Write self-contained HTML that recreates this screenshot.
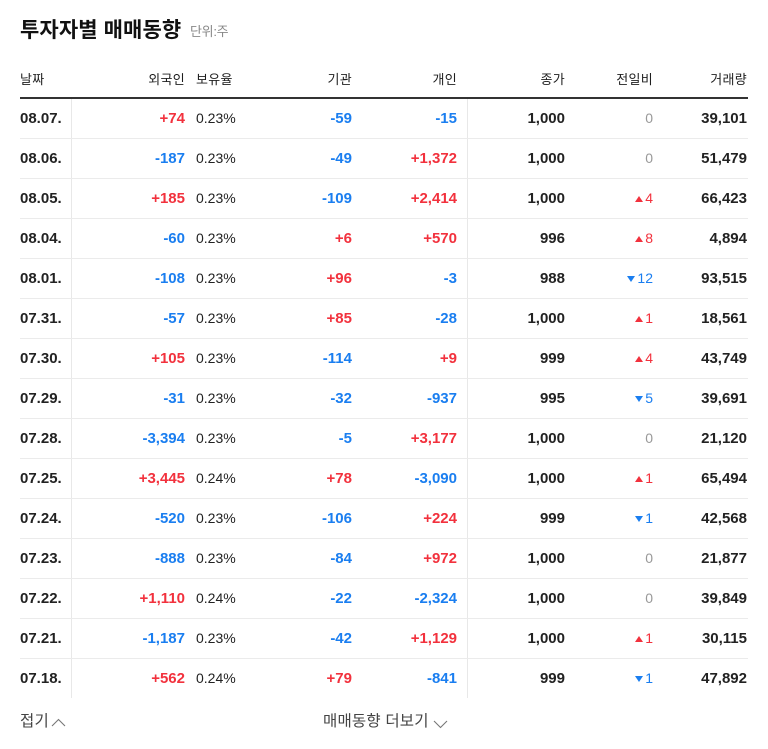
<!DOCTYPE html>
<html><head><meta charset="utf-8">
<style>
*{margin:0;padding:0;box-sizing:border-box}
html,body{width:768px;height:749px;background:#fff;overflow:hidden}
body{position:relative;font-family:"Liberation Sans","Noto Sans CJK KR",sans-serif;color:#222}
.t{position:absolute;white-space:nowrap}
.title{left:20px;top:17px;font-size:21px;font-weight:bold;letter-spacing:0.1px;line-height:28px;color:#111}
.unit{left:190px;top:22px;font-size:13px;letter-spacing:-0.3px;color:#888;line-height:20px}
.h{top:71px;font-size:13px;letter-spacing:0.3px;line-height:18px;color:#1e1e1e}
.hline{position:absolute;left:20px;width:728px;top:97px;height:2px;background:#333}
.vl{position:absolute;top:99px;height:599px;width:1px;background:#e8e8e8}
.row{position:absolute;left:20px;width:728px;height:40px}
.row.b{border-bottom:1px solid #ebebeb}
.c{position:absolute;top:0;line-height:39px;white-space:nowrap;font-size:15px;font-weight:bold}
.r{color:#f2313d}.bl{color:#1a7ef0}
.p{font-weight:normal;font-size:14px;color:#222}
.g{font-weight:normal;font-size:14px;color:#999}
.ch{font-weight:normal;font-size:14px}
.up,.dn{display:inline-block;width:0;height:0;border-left:4px solid transparent;border-right:4px solid transparent;margin-right:2px;vertical-align:1px}
.up{border-bottom:6px solid #f2313d}
.dn{border-top:6px solid #1a7ef0}
.foot{top:711px;font-size:15.5px;color:#444;line-height:22px;letter-spacing:0.2px}
.chev{position:absolute}
</style></head><body>
<div class="t title">투자자별 매매동향</div>
<div class="t unit">단위:주</div>

<div class="t h" style="left:20px">날짜</div>
<div class="t h" style="right:583px">외국인</div>
<div class="t h" style="left:196px">보유율</div>
<div class="t h" style="right:416px">기관</div>
<div class="t h" style="right:311px">개인</div>
<div class="t h" style="right:203px">종가</div>
<div class="t h" style="right:115px">전일비</div>
<div class="t h" style="right:21px">거래량</div>
<div class="hline"></div>

<div class="vl" style="left:71px"></div>
<div class="vl" style="left:467px"></div>

<div class="t foot" style="left:20px">접기</div>
<svg class="chev" style="left:51px;top:718px" width="15" height="9" viewBox="0 0 15 9"><polyline points="1,8 7.5,1.5 14,8" fill="none" stroke="#777" stroke-width="1.1"/></svg>
<div class="t foot" style="left:323px">매매동향 더보기</div>
<svg class="chev" style="left:433px;top:720px" width="15" height="9" viewBox="0 0 15 9"><polyline points="1,1 7.5,7.5 14,1" fill="none" stroke="#777" stroke-width="1.1"/></svg>

<div class="row b" style="top:99px"><span class="c" style="left:0">08.07.</span><span class="c r" style="right:563px">+74</span><span class="c p" style="left:176px">0.23%</span><span class="c bl" style="right:396px">-59</span><span class="c bl" style="right:291px">-15</span><span class="c" style="right:183px">1,000</span><span class="c g" style="right:95px">0</span><span class="c" style="right:1px">39,101</span></div>
<div class="row b" style="top:139px"><span class="c" style="left:0">08.06.</span><span class="c bl" style="right:563px">-187</span><span class="c p" style="left:176px">0.23%</span><span class="c bl" style="right:396px">-49</span><span class="c r" style="right:291px">+1,372</span><span class="c" style="right:183px">1,000</span><span class="c g" style="right:95px">0</span><span class="c" style="right:1px">51,479</span></div>
<div class="row b" style="top:179px"><span class="c" style="left:0">08.05.</span><span class="c r" style="right:563px">+185</span><span class="c p" style="left:176px">0.23%</span><span class="c bl" style="right:396px">-109</span><span class="c r" style="right:291px">+2,414</span><span class="c" style="right:183px">1,000</span><span class="c ch r" style="right:95px"><i class="up"></i>4</span><span class="c" style="right:1px">66,423</span></div>
<div class="row b" style="top:219px"><span class="c" style="left:0">08.04.</span><span class="c bl" style="right:563px">-60</span><span class="c p" style="left:176px">0.23%</span><span class="c r" style="right:396px">+6</span><span class="c r" style="right:291px">+570</span><span class="c" style="right:183px">996</span><span class="c ch r" style="right:95px"><i class="up"></i>8</span><span class="c" style="right:1px">4,894</span></div>
<div class="row b" style="top:259px"><span class="c" style="left:0">08.01.</span><span class="c bl" style="right:563px">-108</span><span class="c p" style="left:176px">0.23%</span><span class="c r" style="right:396px">+96</span><span class="c bl" style="right:291px">-3</span><span class="c" style="right:183px">988</span><span class="c ch bl" style="right:95px"><i class="dn"></i>12</span><span class="c" style="right:1px">93,515</span></div>
<div class="row b" style="top:299px"><span class="c" style="left:0">07.31.</span><span class="c bl" style="right:563px">-57</span><span class="c p" style="left:176px">0.23%</span><span class="c r" style="right:396px">+85</span><span class="c bl" style="right:291px">-28</span><span class="c" style="right:183px">1,000</span><span class="c ch r" style="right:95px"><i class="up"></i>1</span><span class="c" style="right:1px">18,561</span></div>
<div class="row b" style="top:339px"><span class="c" style="left:0">07.30.</span><span class="c r" style="right:563px">+105</span><span class="c p" style="left:176px">0.23%</span><span class="c bl" style="right:396px">-114</span><span class="c r" style="right:291px">+9</span><span class="c" style="right:183px">999</span><span class="c ch r" style="right:95px"><i class="up"></i>4</span><span class="c" style="right:1px">43,749</span></div>
<div class="row b" style="top:379px"><span class="c" style="left:0">07.29.</span><span class="c bl" style="right:563px">-31</span><span class="c p" style="left:176px">0.23%</span><span class="c bl" style="right:396px">-32</span><span class="c bl" style="right:291px">-937</span><span class="c" style="right:183px">995</span><span class="c ch bl" style="right:95px"><i class="dn"></i>5</span><span class="c" style="right:1px">39,691</span></div>
<div class="row b" style="top:419px"><span class="c" style="left:0">07.28.</span><span class="c bl" style="right:563px">-3,394</span><span class="c p" style="left:176px">0.23%</span><span class="c bl" style="right:396px">-5</span><span class="c r" style="right:291px">+3,177</span><span class="c" style="right:183px">1,000</span><span class="c g" style="right:95px">0</span><span class="c" style="right:1px">21,120</span></div>
<div class="row b" style="top:459px"><span class="c" style="left:0">07.25.</span><span class="c r" style="right:563px">+3,445</span><span class="c p" style="left:176px">0.24%</span><span class="c r" style="right:396px">+78</span><span class="c bl" style="right:291px">-3,090</span><span class="c" style="right:183px">1,000</span><span class="c ch r" style="right:95px"><i class="up"></i>1</span><span class="c" style="right:1px">65,494</span></div>
<div class="row b" style="top:499px"><span class="c" style="left:0">07.24.</span><span class="c bl" style="right:563px">-520</span><span class="c p" style="left:176px">0.23%</span><span class="c bl" style="right:396px">-106</span><span class="c r" style="right:291px">+224</span><span class="c" style="right:183px">999</span><span class="c ch bl" style="right:95px"><i class="dn"></i>1</span><span class="c" style="right:1px">42,568</span></div>
<div class="row b" style="top:539px"><span class="c" style="left:0">07.23.</span><span class="c bl" style="right:563px">-888</span><span class="c p" style="left:176px">0.23%</span><span class="c bl" style="right:396px">-84</span><span class="c r" style="right:291px">+972</span><span class="c" style="right:183px">1,000</span><span class="c g" style="right:95px">0</span><span class="c" style="right:1px">21,877</span></div>
<div class="row b" style="top:579px"><span class="c" style="left:0">07.22.</span><span class="c r" style="right:563px">+1,110</span><span class="c p" style="left:176px">0.24%</span><span class="c bl" style="right:396px">-22</span><span class="c bl" style="right:291px">-2,324</span><span class="c" style="right:183px">1,000</span><span class="c g" style="right:95px">0</span><span class="c" style="right:1px">39,849</span></div>
<div class="row b" style="top:619px"><span class="c" style="left:0">07.21.</span><span class="c bl" style="right:563px">-1,187</span><span class="c p" style="left:176px">0.23%</span><span class="c bl" style="right:396px">-42</span><span class="c r" style="right:291px">+1,129</span><span class="c" style="right:183px">1,000</span><span class="c ch r" style="right:95px"><i class="up"></i>1</span><span class="c" style="right:1px">30,115</span></div>
<div class="row" style="top:659px"><span class="c" style="left:0">07.18.</span><span class="c r" style="right:563px">+562</span><span class="c p" style="left:176px">0.24%</span><span class="c r" style="right:396px">+79</span><span class="c bl" style="right:291px">-841</span><span class="c" style="right:183px">999</span><span class="c ch bl" style="right:95px"><i class="dn"></i>1</span><span class="c" style="right:1px">47,892</span></div>
</body></html>
